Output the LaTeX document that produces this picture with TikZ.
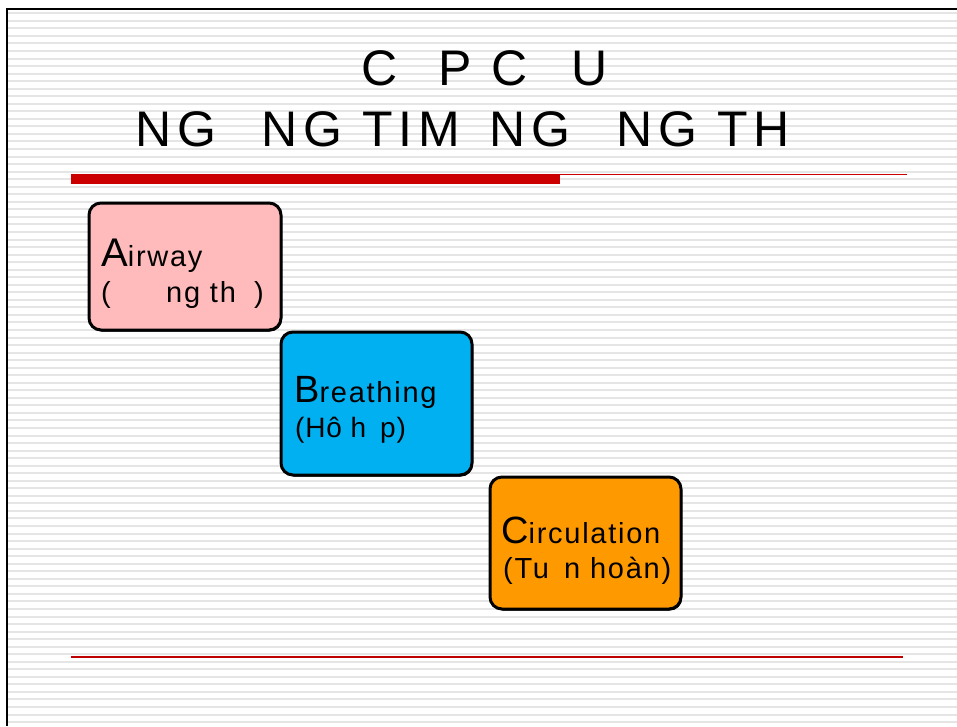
\documentclass[tikz,border=0pt]{standalone}
\usepackage{fontspec}
\setmainfont{Liberation Sans}
\newfontfamily\lsp[LetterSpace=12]{Liberation Sans}
\newfontfamily\lspb[LetterSpace=6]{Liberation Sans}
\newfontfamily\lspc[LetterSpace=3]{Liberation Sans}
\usetikzlibrary{shadows}
\definecolor{stripe}{RGB}{229,229,229}
\definecolor{barred}{RGB}{204,0,0}
\definecolor{darkred}{RGB}{190,0,0}
\definecolor{pinkbox}{RGB}{255,187,187}
\definecolor{bluebox}{RGB}{0,176,240}
\definecolor{orangebox}{RGB}{255,153,0}
\begin{document}
\begin{tikzpicture}[x=1pt,y=-1pt,
  titletext/.style={anchor=base west, inner sep=0pt, font=\lsp\fontsize{50}{60}\selectfont},
  stepbox/.style={draw=black, line width=3pt, rounded corners=12pt, anchor=north west, inner sep=0pt,
    drop shadow={shadow xshift=1pt, shadow yshift=-1.5pt, fill=black, opacity=1}},
  boxtext/.style={anchor=base west, inner sep=0pt, font=\lspb\fontsize{29}{34}\selectfont}
]
\useasboundingbox (0,0) rectangle (957,726);
\fill[white] (0,0) rectangle (957,726);
% stripes
\foreach \k in {0,...,94}{
  \pgfmathsetmacro{\yy}{13.3+7.54*\k}
  \draw[stripe, line width=2pt] (8,\yy) -- (957,\yy);
}
% frame
\draw[black, line width=2.5pt] (7,726) -- (7,9) -- (957,9);
% title
\node[titletext] (title1) at (361.5,85) {\makebox[76.5pt][l]{C }\makebox[53pt][l]{P }\makebox[80pt][l]{C }U};
\node[titletext] (title2) at (135,146) {\makebox[126pt][l]{NG }\makebox[101pt][l]{NG }\makebox[127pt][l]{TIM }\makebox[127pt][l]{NG }\makebox[101pt][l]{NG }TH};
% red rules
\fill[barred] (71,174) rectangle (560,184);
\draw[barred, line width=1pt] (560,174.5) -- (907,174.5);
\draw[darkred, line width=1.2pt] (71,657) -- (903,657);
% boxes
\node[stepbox, fill=pinkbox, minimum width=192pt, minimum height=127pt] (airway) at (87.5,201.5) {};
\node[stepbox, fill=bluebox, minimum width=191pt, minimum height=143pt] (breathing) at (279.5,330.5) {};
\node[stepbox, fill=orangebox, minimum width=191pt, minimum height=132pt] (circulation) at (488.5,475.5) {};
% box texts
\node[boxtext] (airwayA) at (101,266) {{\fontsize{40}{44}\selectfont A}irway};
\node[boxtext] (airwayB) at (101,302) {\makebox[65pt][l]{( }\makebox[88pt][l]{ng th })};
\node[boxtext] (breathA) at (294,402) {{\fontsize{38}{42}\selectfont B}reathing};
\node[boxtext, font=\lspc\fontsize{28}{34}\selectfont] (breathB) at (295,437) {\makebox[85pt][l]{(Hô h\rlap{ }}p)};
\node[boxtext] (circA) at (501,543) {{\fontsize{38}{42}\selectfont C}irculation};
\node[boxtext] (circB) at (503,578) {\makebox[61pt][l]{(Tu }n hoàn)};
\end{tikzpicture}
\end{document}
